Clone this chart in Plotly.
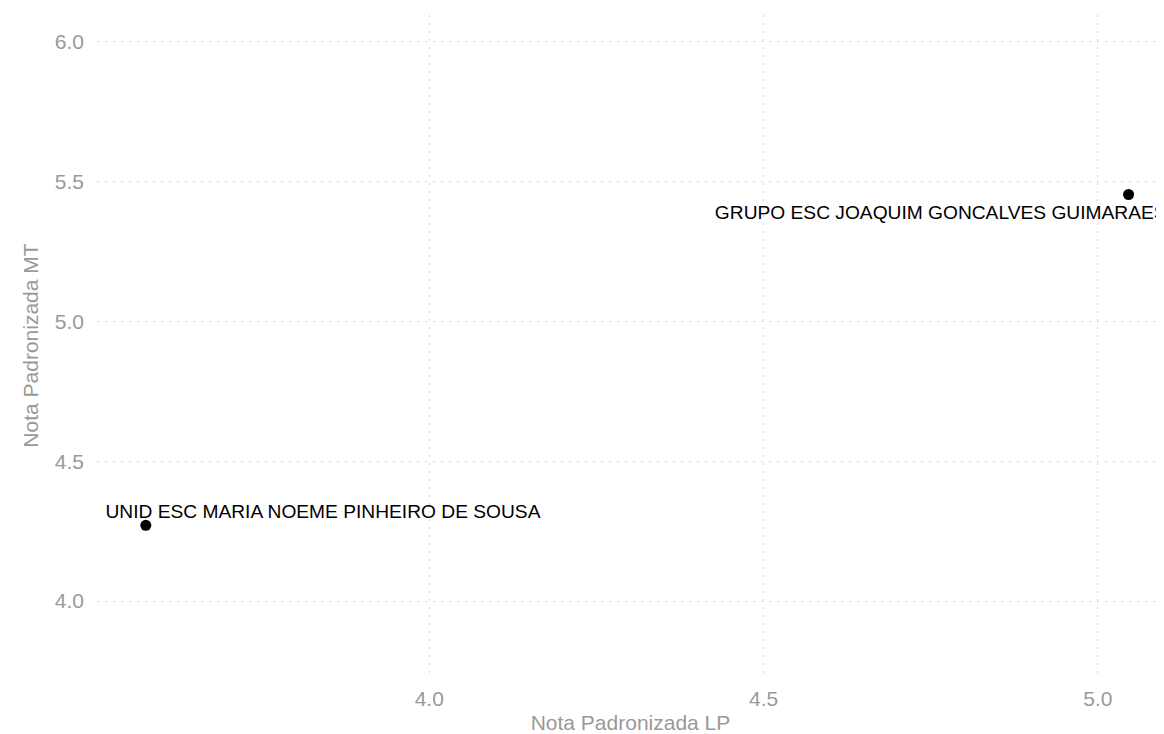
import plotly.graph_objects as go

schools = ["UNID ESC MARIA NOEME PINHEIRO DE SOUSA", "GRUPO ESC JOAQUIM GONCALVES GUIMARAES"]
nota_lp = [3.576, 5.046]
nota_mt = [4.271, 5.454]
label_x = [3.841, 4.765]
label_y = [4.315, 5.385]

x_ticks = [4.0, 4.5, 5.0]
y_ticks = [4.0, 4.5, 5.0, 5.5, 6.0]

FONT = "Liberation Sans, Arial, Helvetica, sans-serif"
GREY = "#999999"
GRID = "#d4d4d4"

fig = go.Figure()
fig.add_trace(go.Scatter(
    x=nota_lp, y=nota_mt, mode="markers",
    marker=dict(color="black", size=11),
    hoverinfo="text", text=schools, showlegend=False,
))
fig.add_trace(go.Scatter(
    x=label_x, y=label_y, mode="text", text=schools,
    textposition="middle center",
    textfont=dict(family=FONT, size=19.2, color="black"),
    showlegend=False, hoverinfo="skip",
))

fig.update_layout(
    width=1156, height=726,
    margin=dict(l=89, r=0, t=7, b=58),
    paper_bgcolor="white", plot_bgcolor="white",
    font=dict(family=FONT, color=GREY),
    xaxis=dict(
        range=[3.503, 5.099], tickvals=x_ticks, ticktext=[f"{v:.1f}" for v in x_ticks],
        showgrid=True, gridcolor=GRID, griddash="2px,6px", gridwidth=1,
        zeroline=False, showline=False, ticks="",
        tickfont=dict(size=21, color=GREY), ticklabelstandoff=8,
        title=dict(text="Nota Padronizada LP", font=dict(size=21, color=GREY), standoff=10),
        automargin=False,
    ),
    yaxis=dict(
        range=[3.732, 6.096], tickvals=y_ticks, ticktext=[f"{v:.1f}" for v in y_ticks],
        showgrid=True, gridcolor=GRID, griddash="2px,6px", gridwidth=1,
        zeroline=False, showline=False, ticks="",
        tickfont=dict(size=21, color=GREY), ticklabelstandoff=12,
        title=dict(text="Nota Padronizada MT", font=dict(size=21, color=GREY), standoff=10),
        automargin=False,
    ),
)

fig.write_html("out.html")
